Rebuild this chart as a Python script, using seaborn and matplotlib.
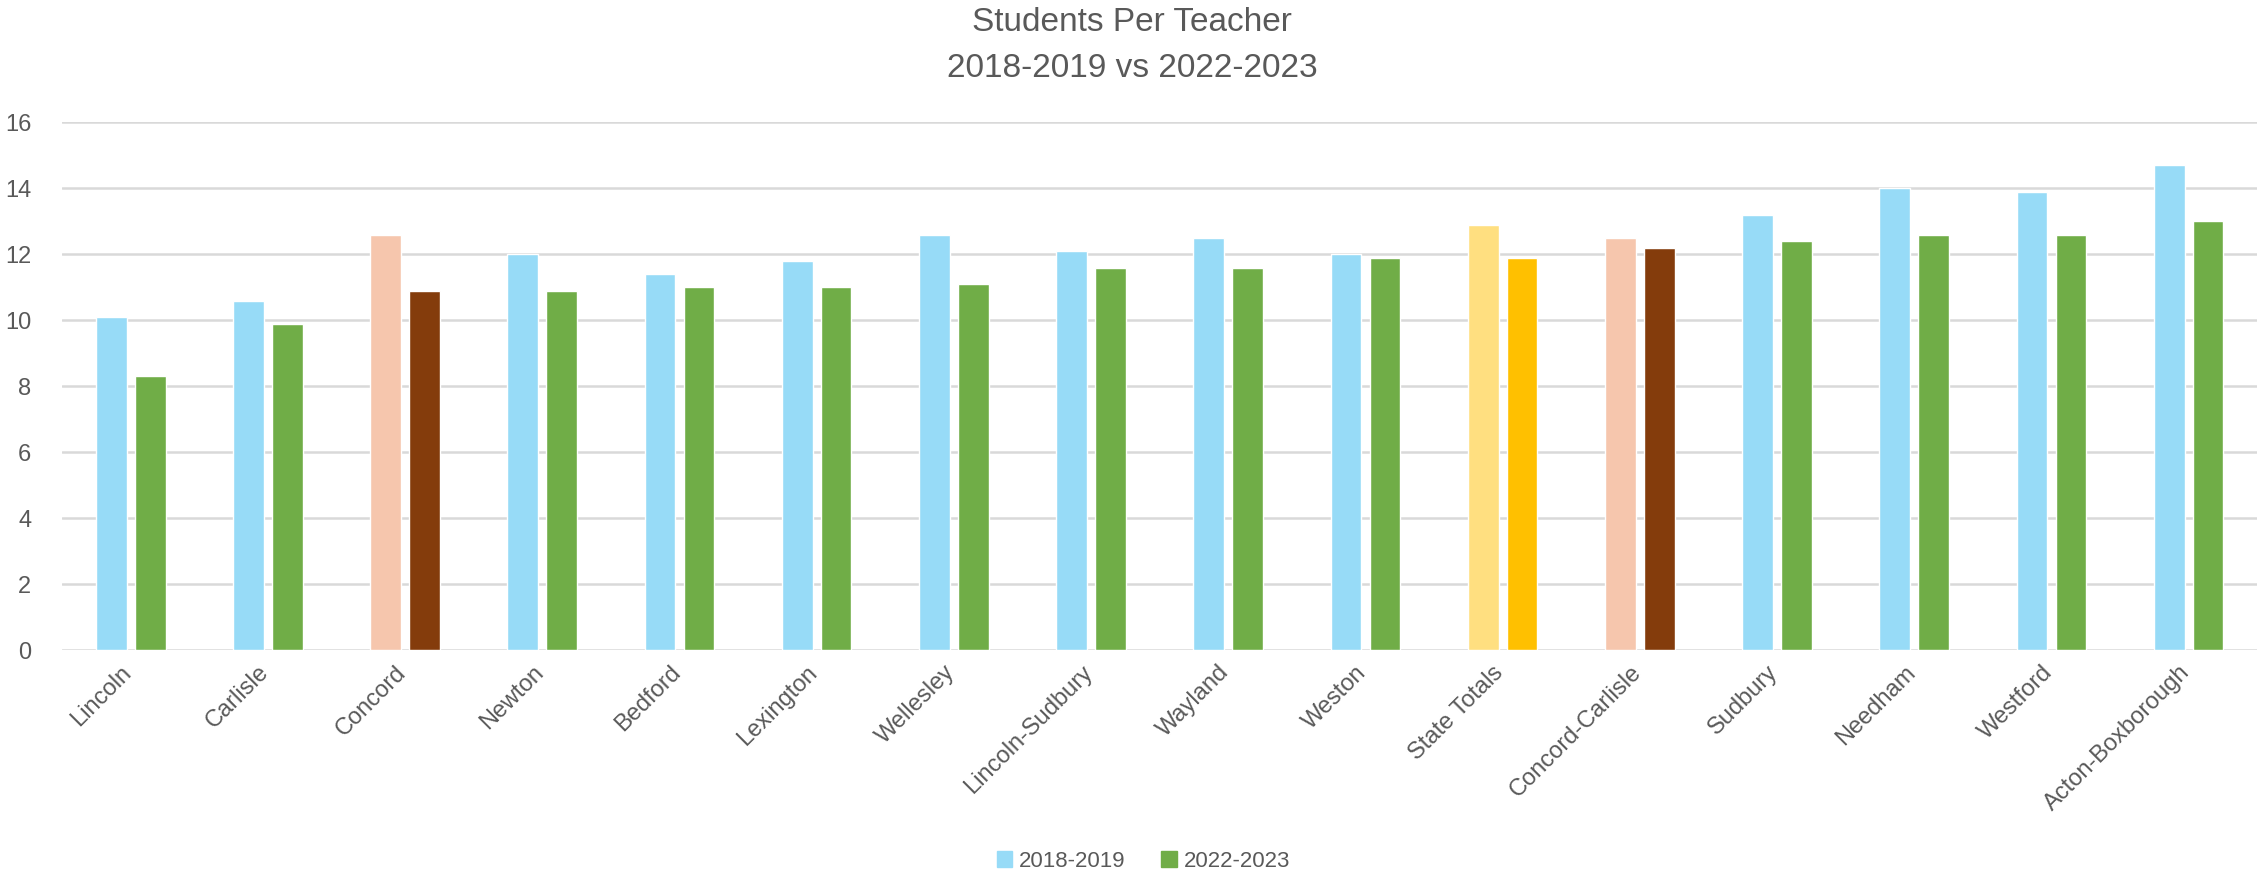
import matplotlib
matplotlib.use("Agg")
import matplotlib.pyplot as plt
import matplotlib.patches as mpatches
import matplotlib.transforms as mtransforms
import pandas as pd
import seaborn as sns

# Chart data
districts = ["Lincoln", "Carlisle", "Concord", "Newton", "Bedford", "Lexington",
             "Wellesley", "Lincoln-Sudbury", "Wayland", "Weston", "State Totals",
             "Concord-Carlisle", "Sudbury", "Needham", "Westford", "Acton-Boxborough"]
ratio_2018 = [10.1, 10.6, 12.6, 12.0, 11.4, 11.8, 12.6, 12.1, 12.5, 12.0, 12.9,
              12.5, 13.2, 14.0, 13.9, 14.7]
ratio_2022 = [8.3, 9.9, 10.9, 10.9, 11.0, 11.0, 11.1, 11.6, 11.6, 11.9, 11.9,
              12.2, 12.4, 12.6, 12.6, 13.0]
periods = ["2018-2019", "2022-2023"]

# highlighted districts get their own colours
highlight = {
    "Concord": ("#F6C6AD", "#843C0C"),
    "Concord-Carlisle": ("#F6C6AD", "#843C0C"),
    "State Totals": ("#FFDF80", "#FFC000"),
}

text_col = "#595959"
blue = "#97DBF7"
green = "#70AD47"

df = pd.DataFrame({
    "District": districts * 2,
    "Period": [periods[0]] * len(districts) + [periods[1]] * len(districts),
    "Ratio": ratio_2018 + ratio_2022,
})

sns.set_style("white")
plt.rcParams["font.family"] = ["Liberation Sans", "DejaVu Sans"]

fig = plt.figure(figsize=(22.64, 8.74), dpi=100)
ax = fig.add_axes([0.0274, 0.256, 0.9696, 0.604])

sns.barplot(data=df, x="District", y="Ratio", hue="Period", order=districts,
            hue_order=periods, palette=[blue, green], width=0.568, gap=0.21,
            saturation=1, legend=False, ax=ax, zorder=2)

# recolour highlighted bars
for i, name in enumerate(districts):
    if name in highlight:
        c1, c2 = highlight[name]
        ax.containers[0][i].set_facecolor(c1)
        ax.containers[1][i].set_facecolor(c2)

ax.set_ylim(0, 16)
ax.set_yticks(range(0, 17, 2))
ax.set_xlim(-0.5, len(districts) - 0.5)
ax.yaxis.grid(True, color="#D9D9D9", linewidth=1.8, zorder=0)
ax.set_axisbelow(True)
for s in ax.spines.values():
    s.set_visible(False)
ax.set_xlabel("")
ax.set_ylabel("")
ax.tick_params(axis="y", length=0, labelsize=17, labelcolor=text_col, pad=22)
ax.tick_params(axis="x", length=0, labelsize=17, labelcolor=text_col, pad=8)
shift = mtransforms.ScaledTranslation(-0.1, 0, fig.dpi_scale_trans)
for lbl in ax.get_xticklabels():
    lbl.set_rotation(45)
    lbl.set_horizontalalignment("right")
    lbl.set_rotation_mode("anchor")
    lbl.set_transform(lbl.get_transform() + shift)

fig.text(0.5, 0.974, "Students Per Teacher", ha="center", va="center",
         fontsize=24, color=text_col)
fig.text(0.5, 0.922, "2018-2019 vs 2022-2023", ha="center", va="center",
         fontsize=24, color=text_col)

handles = [mpatches.Patch(color=blue, label=periods[0]),
           mpatches.Patch(color=green, label=periods[1])]
fig.legend(handles=handles, loc="center", bbox_to_anchor=(0.505, 0.0145), ncol=2,
           frameon=False, fontsize=16, labelcolor=text_col, handlelength=0.7,
           handleheight=0.7, handletextpad=0.3, columnspacing=1.6)

fig.savefig("out.png", dpi=100)
